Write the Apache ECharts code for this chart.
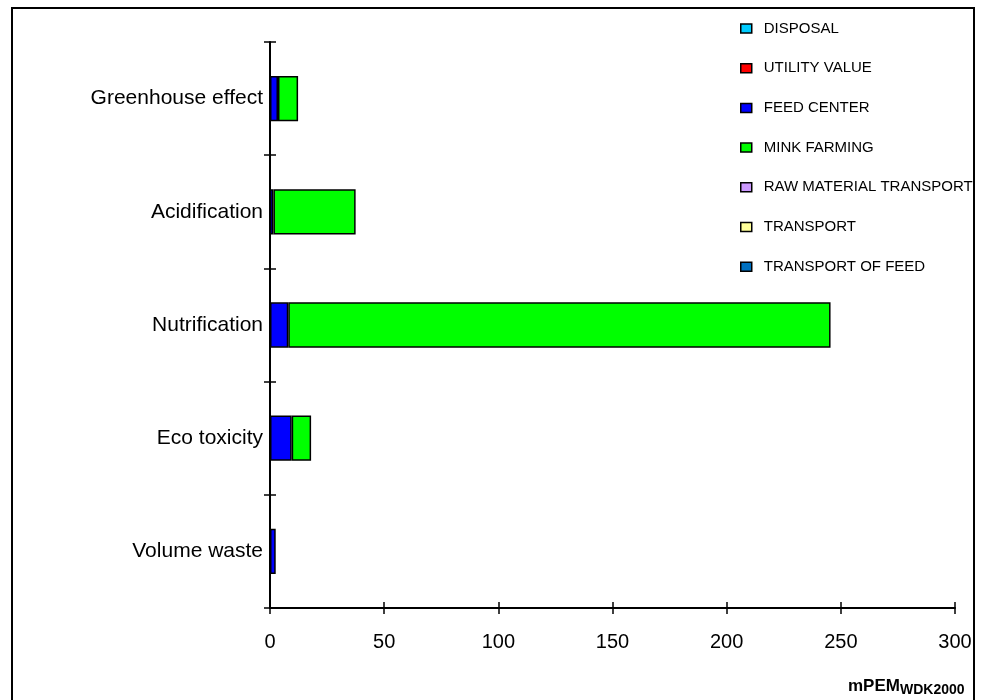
<!DOCTYPE html>
<html>
<head>
<meta charset="utf-8">
<script src="https://cdn.jsdelivr.net/npm/echarts@6/dist/echarts.min.js"></script>
<style>
  html, body { margin: 0; padding: 0; background: #fff; }
  #chart { width: 995px; height: 700px; }
</style>
</head>
<body>
<div id="chart"></div>
<script>
// Impact categories, top to bottom
const categories = ['Greenhouse effect', 'Acidification', 'Nutrification', 'Eco toxicity', 'Volume waste'];

// Contributions per life-cycle stage (mPEM WDK2000)
const disposal = [0, 0, 0, 0, 0];
const utilityValue = [0, 0, 0, 0, 0];
const feedCenter = [3.5, 1.5, 8, 9.5, 2.5];
const minkFarming = [8.8, 36, 237.5, 8.5, 0];
const rawMaterialTransport = [0, 0, 0, 0, 0];
const transport = [0, 0, 0, 0, 0];
const transportOfFeed = [0, 0, 0, 0, 0];

const xTicks = [0, 50, 100, 150, 200, 250, 300];

const seriesDefs = [
  { name: 'DISPOSAL', data: disposal, color: '#00CCFF' },
  { name: 'UTILITY VALUE', data: utilityValue, color: '#FF0000' },
  { name: 'FEED CENTER', data: feedCenter, color: '#0000FF' },
  { name: 'MINK FARMING', data: minkFarming, color: '#00FF00' },
  { name: 'RAW MATERIAL TRANSPORT', data: rawMaterialTransport, color: '#CC99FF' },
  { name: 'TRANSPORT', data: transport, color: '#FFFF99' },
  { name: 'TRANSPORT OF FEED', data: transportOfFeed, color: '#0070C0' }
];

const font = 'Arial, "Liberation Sans", sans-serif';
const chart = echarts.init(document.getElementById('chart'));

const axisLine = { show: true, lineStyle: { color: '#000', width: 2 } };

chart.setOption({
  animation: false,
  backgroundColor: '#fff',
  grid: { left: 270, right: 40, top: 42, bottom: 92, containLabel: false },
  legend: {
    orient: 'vertical',
    left: 735,
    top: 16,
    itemGap: 24.7,
    itemWidth: 11,
    itemHeight: 9,
    icon: 'rect',
    selectedMode: false,
    textStyle: { fontFamily: font, fontSize: 15, color: '#000', padding: [0, 0, 0, 7] },
    itemStyle: { borderColor: '#000', borderWidth: 1.5 },
    data: seriesDefs.map(s => s.name)
  },
  xAxis: [
    {
      type: 'value', min: 0, max: 300, interval: 50,
      axisLine: axisLine,
      axisTick: { show: true, length: 6, lineStyle: { color: '#000', width: 1.5 } },
      axisLabel: {
        fontFamily: font, fontSize: 20, color: '#000', margin: 24,
        formatter: v => xTicks.includes(v) ? String(v) : ''
      },
      splitLine: { show: false }
    },
    {
      type: 'value', min: 0, max: 300, interval: 50, position: 'bottom',
      axisLine: { show: false },
      axisTick: { show: true, inside: true, length: 6, lineStyle: { color: '#000', width: 1.5 } },
      axisLabel: { show: false },
      splitLine: { show: false }
    }
  ],
  yAxis: [
    {
      type: 'category', data: categories, inverse: true,
      axisLine: axisLine,
      axisTick: { show: true, length: 6, lineStyle: { color: '#000', width: 1.5 } },
      axisLabel: { fontFamily: font, fontSize: 21, color: '#000', margin: 7 }
    },
    {
      type: 'category', data: categories, inverse: true, position: 'left',
      axisLine: { show: false },
      axisTick: { show: true, inside: true, length: 6, lineStyle: { color: '#000', width: 1.5 } },
      axisLabel: { show: false }
    }
  ],
  series: seriesDefs.map(s => ({
    name: s.name,
    type: 'bar',
    stack: 'total',
    barWidth: '40%',
    xAxisIndex: 0,
    yAxisIndex: 0,
    data: s.data.map(v => (v === 0 ? '-' : v)),
    itemStyle: { color: s.color, borderColor: '#000', borderWidth: 1.5 }
  })),
  title: {
    left: 843,
    bottom: 0,
    text: '{a|mPEM}{b|WDK2000}',
    textStyle: {
      rich: {
        a: { fontFamily: font, fontSize: 17, fontWeight: 'bold', color: '#000' },
        b: { fontFamily: font, fontSize: 14, fontWeight: 'bold', color: '#000', padding: [8, 0, 0, 0] }
      }
    }
  },
  graphic: [
    {
      type: 'rect', silent: true, z: 101,
      shape: { x: 12, y: 8, width: 962, height: 710 },
      style: { fill: 'none', stroke: '#000', lineWidth: 2 }
    }
  ]
});
</script>
</body>
</html>
